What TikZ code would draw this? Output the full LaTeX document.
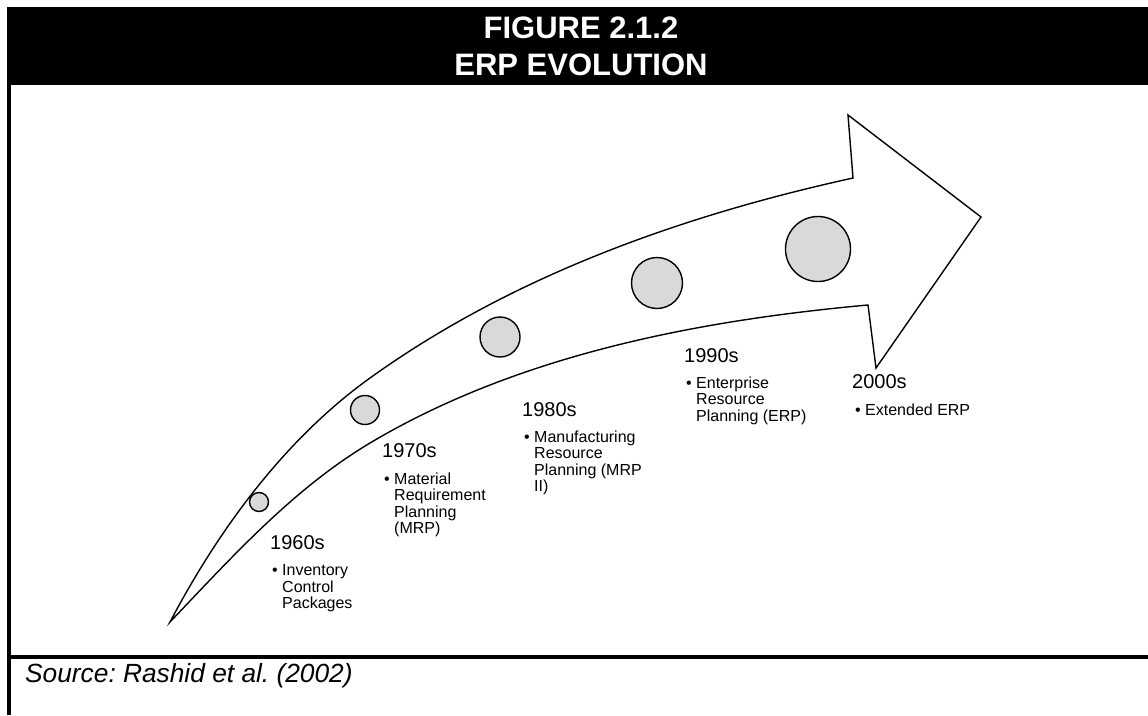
\documentclass[tikz,border=0pt]{standalone}
\usepackage{fontspec}
\setmainfont{Liberation Sans}
\frenchspacing
\definecolor{dotgray}{HTML}{D9D9D9}
\begin{document}
\begin{tikzpicture}[x=1pt,y=-1pt,
  era/.style={anchor=base west, inner sep=0pt, font=\fontsize{20}{24}\selectfont},
  items/.style={anchor=north west, inner sep=0pt, align=left, font=\fontsize{16}{16.5}\selectfont},
  milestone/.style={circle, draw=black, line width=1.4pt, fill=dotgray, inner sep=0pt},
  outline/.style={draw=black, line width=1.4pt, line join=miter, fill=white},
  titletext/.style={anchor=base, inner sep=0pt, text=white, font=\fontsize{31}{37}\selectfont\bfseries}]
\useasboundingbox (0,0) rectangle (1148,715);

% frame: header band, left rule, source rule
\fill[black] (7,7) rectangle (1148,85);
\draw[line width=3.5pt] (8.75,85) -- (8.75,715);
\draw[line width=4pt] (7,657) -- (1148,657);

\node[titletext] (t1) at (581,38.5) {FIGURE 2.1.2};
\node[titletext] (t2) at (581,75.5) {ERP EVOLUTION};

% the curved arrow: upper edge, head, lower edge back to the tail point
\draw[outline]
  (170,622) .. controls (219,529) and (285,439) .. (370,378)
            .. controls (512,276) and (682,215.6) .. (853,178)
  -- (848,115) -- (981,217) -- (876,368) -- (868,305)
            .. controls (697,320.5) and (518,355) .. (370,443)
            .. controls (293,489) and (232,557) .. (170,622)
  -- cycle;

% milestones
\node[milestone, minimum size=19pt] (m1) at (259,502) {};
\node[milestone, minimum size=29pt] (m2) at (365,410) {};
\node[milestone, minimum size=40pt] (m3) at (500,337) {};
\node[milestone, minimum size=51pt] (m4) at (657,283) {};
\node[milestone, minimum size=65pt] (m5) at (818,249) {};

% decades
\node[era] (y60) at (270,549) {1960s};
\node[items] (l60) at (282,564.5) {\llap{\textbullet\hspace{4.5pt}}Inventory\\Control\\Packages};

\node[era] (y70) at (382,457) {1970s};
\node[items] (l70) at (394,472.5) {\llap{\textbullet\hspace{4.5pt}}Material\\Requirement\\Planning\\(MRP)};

\node[era] (y80) at (522,416) {1980s};
\node[items] (l80) at (534,430.5) {\llap{\textbullet\hspace{4.5pt}}Manufacturing\\Resource\\Planning (MRP\\II)};

\node[era] (y90) at (684,362) {1990s};
\node[items] (l90) at (696,376.5) {\llap{\textbullet\hspace{4.5pt}}Enterprise\\Resource\\Planning (ERP)};

\node[era] (y00) at (852,388) {2000s};
\node[items] (l00) at (865,403.5) {\llap{\textbullet\hspace{4.5pt}}Extended ERP};

\node[anchor=base west, inner sep=0pt, font=\fontsize{26.3}{30}\selectfont\itshape] (src) at (25,682) {Source: Rashid et al. (2002)};
\end{tikzpicture}
\end{document}
